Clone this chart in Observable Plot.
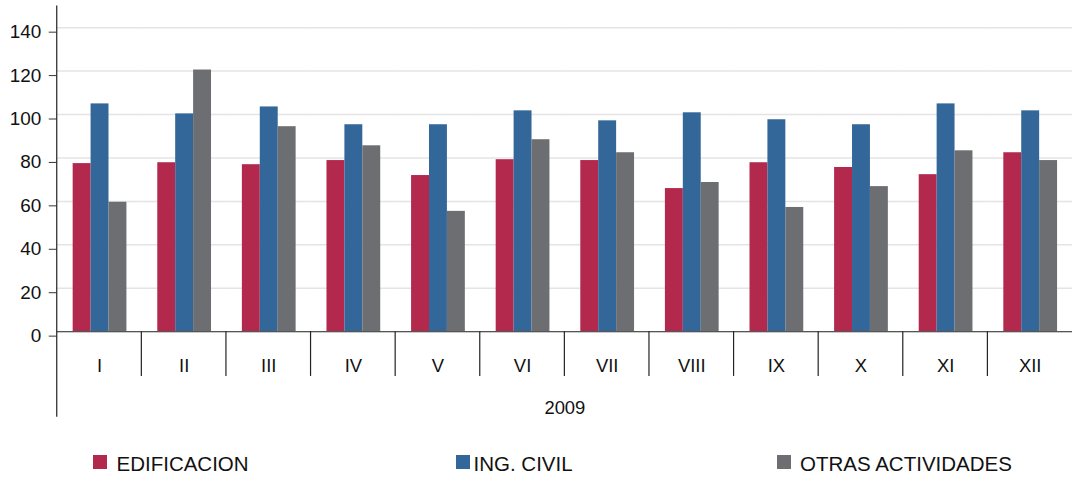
<!DOCTYPE html>
<html>
<head>
<meta charset="utf-8">
<script src="https://cdn.jsdelivr.net/npm/d3@7"></script>
<script src="https://cdn.jsdelivr.net/npm/@observablehq/plot@0.6"></script>
<style>
  html, body { margin: 0; padding: 0; background: #fff; overflow: hidden; }
  body { font-family: "Liberation Sans", Arial, sans-serif; width: 1072px; height: 479px; }
  #chart svg { display: block; }
  #legend { position: relative; width: 1072px; height: 39px; }
  .sw { position: absolute; width: 14px; height: 14px; top: 17px; }
  .lt { position: absolute; top: 14px; font-size: 20.5px; line-height: 24px; color: #111; white-space: nowrap; }
</style>
</head>
<body>
<div id="chart"></div>
<div id="legend"></div>
<script>
// ---- data ----
const months = ["I", "II", "III", "IV", "V", "VI", "VII", "VIII", "IX", "X", "XI", "XII"];
const series = ["EDIFICACION", "ING. CIVIL", "OTRAS ACTIVIDADES"];
const edificacion = [77.4, 77.8, 76.9, 78.8, 71.9, 79.2, 78.8, 65.9, 77.8, 75.6, 72.3, 82.4];
const ingCivil    = [104.9, 100.3, 103.5, 95.3, 95.3, 101.7, 97.1, 100.8, 97.6, 95.3, 104.9, 101.7];
const otras       = [59.6, 120.5, 94.4, 85.6, 55.4, 88.4, 82.4, 68.7, 57.2, 66.8, 83.3, 78.8];
const yTicks = [0, 20, 40, 60, 80, 100, 120, 140];
const yearLabel = "2009";
const colors = ["#B3284D", "#336699", "#6D6E71"];

// ---- table ----
const valuesBySeries = [edificacion, ingCivil, otras];
const rows = months.flatMap((m, i) =>
  series.map((s, j) => ({month: m, series: s, value: valuesBySeries[j][i]}))
);

// ---- chart ----
const plot = Plot.plot({
  width: 1077,
  height: 440,
  marginLeft: 56,
  marginRight: 0,
  marginTop: 5.5,
  marginBottom: 107.3,
  style: {fontFamily: '"Liberation Sans", Arial, sans-serif', fontSize: "18.5px", color: "#111", background: "#fff"},
  fx: {domain: months, padding: 0},
  x: {domain: series, paddingInner: 0, paddingOuter: 0.737, axis: null},
  y: {domain: [0, 150]},
  color: {domain: series, range: colors},
  marks: [
    Plot.gridY(yTicks, {stroke: "#e4e4e4", strokeOpacity: 1, strokeWidth: 1.5}),
    Plot.barY(rows, {fx: "month", x: "series", y: "value", fill: "series"}),
    Plot.ruleY([0], {stroke: "#555", strokeWidth: 1.2}),
    Plot.axisY(yTicks, {tickSize: 8, tickPadding: 8, dy: 4.5, label: null, fontSize: 19, stroke: "#333"}),
    Plot.axisFx({anchor: "bottom", tickSize: 0, tickPadding: 27, fontSize: 18.5, label: yearLabel, labelAnchor: "center", labelOffset: 83})
  ]
});
document.getElementById("chart").appendChild(plot);

// category separators and vertical axis line, positioned with the plot's own scales
const fxs = plot.scale("fx");
const ys = plot.scale("y");
const y0 = ys.apply(0);
const yTop = ys.apply(150);
const g = d3.select(plot).append("g").attr("stroke", "#222").attr("stroke-width", 1.2);
g.append("line").attr("x1", fxs.apply(months[0])).attr("x2", fxs.apply(months[0]))
  .attr("y1", yTop).attr("y2", y0 + 86);
months.slice(1).forEach(m => {
  const x = fxs.apply(m);
  g.append("line").attr("x1", x).attr("x2", x).attr("y1", y0).attr("y2", y0 + 45);
});

// ---- legend ----
const swatchLeft = [93, 456, 777];
const textLeft = [116.5, 473.5, 800];
const legend = d3.select("#legend");
series.forEach((s, i) => {
  legend.append("div").attr("class", "sw").style("left", swatchLeft[i] + "px").style("background", colors[i]);
  legend.append("div").attr("class", "lt").style("left", textLeft[i] + "px").text(s);
});
</script>
</body>
</html>
